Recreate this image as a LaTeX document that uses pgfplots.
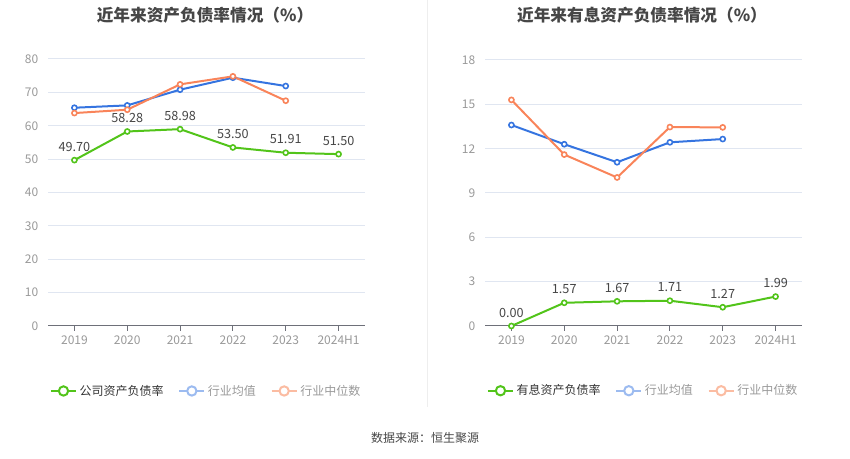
\documentclass[border=0pt]{standalone}
\usepackage{pgfplots}
\pgfplotsset{compat=1.18}
\usepackage{fontspec}
\setmainfont{Noto Sans CJK SC}
\definecolor{cgreen}{HTML}{52C41A}
\definecolor{cblue}{HTML}{3574E0}
\definecolor{corange}{HTML}{F9845A}
\definecolor{lblue}{HTML}{9CBBF0}
\definecolor{lorange}{HTML}{FBBCA2}
\definecolor{gridc}{HTML}{E0E6F1}
\definecolor{axisc}{HTML}{6E7079}
\definecolor{tickc}{HTML}{999999}
\definecolor{titlec}{HTML}{464646}
\definecolor{labc}{HTML}{464646}
\definecolor{divc}{HTML}{EEEEEE}
\newcommand\legimg[1]{\draw[#1, line width=1.5pt] (0pt,0pt) -- (18.75pt,0pt);
  \draw[#1, line width=1.5pt, fill=white] (9.375pt,0pt) circle (3.5pt);}
\pgfplotsset{
  mystyle/.style={
    scale only axis, width=237.75pt,
    xmin=-0.5, xmax=5.5, xtick={0,...,5},
    xticklabels={2019,2020,2021,2022,2023,2024H1},
    axis x line*=bottom, axis y line*=left,
    y axis line style={draw=none},
    x axis line style={draw=axisc, line width=0.75pt},
    xtick style={draw=axisc, line width=0.75pt},
    ytick style={draw=none},
    major tick length=3.75pt, tick align=outside,
    ymajorgrids, grid style={gridc, line width=0.75pt},
    tick label style={font=\fontsize{9}{10}\selectfont, text=tickc},
    /pgf/number format/assume math mode=true,
    clip=false,
    legend style={draw=none, fill=none, legend columns=3,
      at={(0.5,-0.2434)}, anchor=center,
      font=\fontsize{9}{10}\selectfont,
      /tikz/every even column/.append style={column sep=9pt},
      nodes={inner sep=2pt}},
  },
  ser/.style={#1, line width=1.5pt, mark=*, mark size=1.9pt,
    mark options={fill=white, line width=1.2pt}},
  lab/.style={point meta=explicit symbolic, nodes near coords,
    every node near coord/.append style={font=\fontsize{9.5}{10}\selectfont,
      text=labc, anchor=south, yshift=6pt, inner sep=0pt}},
}
\begin{document}
\begin{tikzpicture}
\begin{scope}[x=0.75pt,y=0.75pt]
\path[use as bounding box] (0,0) rectangle (850,459);
\draw[divc, line width=0.75pt] (427,459) -- (427,52);
\node[font=\fontsize{12.5}{14}\selectfont\bfseries, text=titlec] at (205,444) {近年来资产负债率情况（\%）};
\node[font=\fontsize{12.5}{14}\selectfont\bfseries, text=titlec] at (642,444) {近年来有息资产负债率情况（\%）};
\node[font=\fontsize{9}{10}\selectfont, text=labc] at (425,21) {数据来源：恒生聚源};
\end{scope}

\begin{axis}[mystyle, at={(36pt,99.75pt)}, anchor=south west,
  height=200.25pt, ymin=0, ymax=80, ytick={0,10,...,80}]
\addplot[ser=cblue, forget plot] coordinates {(0,65.4) (1,66.1) (2,70.8) (3,74.4) (4,71.9)};
\addplot[ser=corange, forget plot] coordinates {(0,63.8) (1,64.8) (2,72.4) (3,74.8) (4,67.5)};
\addplot[ser=cgreen, lab, forget plot] coordinates {(0,49.70)[49.70] (1,58.28)[58.28] (2,58.98)[58.98] (3,53.50)[53.50] (4,51.91)[51.91] (5,51.50)[51.50]};
\addlegendimage{legend image code/.code={\legimg{cgreen}}}
\addlegendentry{\textcolor[HTML]{333333}{公司资产负债率}}
\addlegendimage{legend image code/.code={\legimg{lblue}}}
\addlegendentry{\textcolor[HTML]{999999}{行业均值}}
\addlegendimage{legend image code/.code={\legimg{lorange}}}
\addlegendentry{\textcolor[HTML]{999999}{行业中位数}}
\end{axis}

\begin{axis}[mystyle, at={(363.75pt,99.75pt)}, anchor=south west,
  height=199.5pt, ymin=0, ymax=18, ytick={0,3,...,18}]
\addplot[ser=cblue, forget plot] coordinates {(0,13.6) (1,12.3) (2,11.08) (3,12.43) (4,12.65)};
\addplot[ser=corange, forget plot] coordinates {(0,15.3) (1,11.6) (2,10.05) (3,13.46) (4,13.44)};
\addplot[ser=cgreen, lab, forget plot] coordinates {(0,0.00)[0.00] (1,1.57)[1.57] (2,1.67)[1.67] (3,1.71)[1.71] (4,1.27)[1.27] (5,1.99)[1.99]};
\addlegendimage{legend image code/.code={\legimg{cgreen}}}
\addlegendentry{\textcolor[HTML]{333333}{有息资产负债率}}
\addlegendimage{legend image code/.code={\legimg{lblue}}}
\addlegendentry{\textcolor[HTML]{999999}{行业均值}}
\addlegendimage{legend image code/.code={\legimg{lorange}}}
\addlegendentry{\textcolor[HTML]{999999}{行业中位数}}
\end{axis}
\end{tikzpicture}
\end{document}
